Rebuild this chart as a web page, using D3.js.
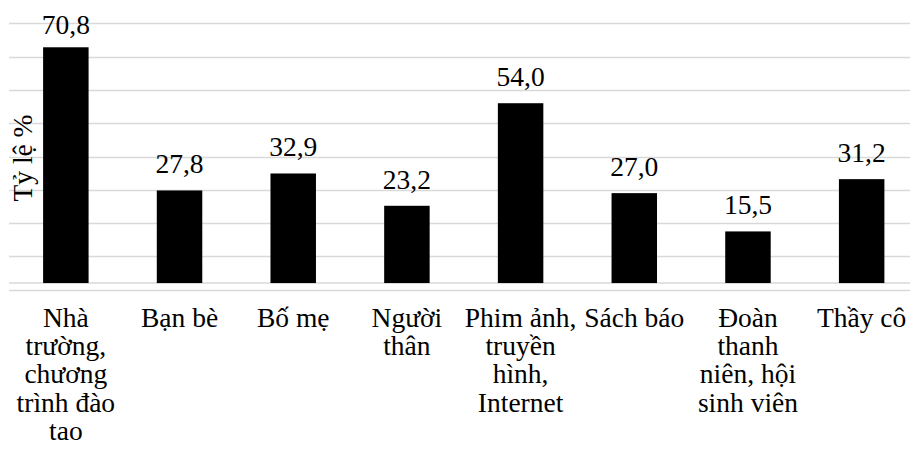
<!DOCTYPE html>
<html>
<head>
<meta charset="utf-8">
<script src="https://cdn.jsdelivr.net/npm/d3@7"></script>
<style>
  html, body { margin: 0; padding: 0; background: #fff; }
  svg { display: block; }
</style>
</head>
<body>
<svg id="chart" width="910" height="455"></svg>
<script>
// ---- data ----
const categories = [
  "Nhà\ntrường,\nchương\ntrình đào\ntao",
  "Bạn bè",
  "Bố mẹ",
  "Người\nthân",
  "Phim ảnh,\ntruyền\nhình,\nInternet",
  "Sách báo",
  "Đoàn\nthanh\nniên, hội\nsinh viên",
  "Thầy cô"
];
const values = [70.8, 27.8, 32.9, 23.2, 54.0, 27.0, 15.5, 31.2];
const valueLabels = ["70,8", "27,8", "32,9", "23,2", "54,0", "27,0", "15,5", "31,2"];
const gridTicks = [-2, 8, 18, 28, 38, 48, 58, 68, 78];
const yTitle = "Tỷ lệ %";

// ---- layout ----
const svg = d3.select("#chart");
const fontSize = 27.5;
const fontFamily = "Liberation Serif";

const x = d3.scaleBand()
  .domain(categories)
  .range([9, 918.5])
  .paddingInner(0.6)
  .paddingOuter(0.3);

const y = d3.scaleLinear()
  .domain([-2, 78])
  .range([289.7, 23.3]);

// gridlines
svg.append("g")
  .selectAll("line")
  .data(gridTicks)
  .join("line")
  .attr("x1", 9)
  .attr("x2", 918.5)
  .attr("y1", d => Math.round(y(d)) + 0.5)
  .attr("y2", d => Math.round(y(d)) + 0.5)
  .attr("stroke", "#d9d9d9")
  .attr("stroke-width", 1.5);

// zero axis line
svg.append("line")
  .attr("x1", 9).attr("x2", 918.5)
  .attr("y1", y(0)).attr("y2", y(0))
  .attr("stroke", "#d9d9d9")
  .attr("stroke-width", 1.5);

// bars
svg.append("g")
  .selectAll("rect")
  .data(values)
  .join("rect")
  .attr("x", (d, i) => x(categories[i]))
  .attr("width", x.bandwidth())
  .attr("y", d => y(d))
  .attr("height", d => y(0) - y(d))
  .attr("fill", "#000");

// value labels
svg.append("g")
  .selectAll("text")
  .data(values)
  .join("text")
  .attr("x", (d, i) => x(categories[i]) + x.bandwidth() / 2)
  .attr("y", d => Math.max(y(d) - 17, 34.3))
  .attr("text-anchor", "middle")
  .attr("font-family", fontFamily)
  .attr("font-size", fontSize)
  .attr("fill", "#000")
  .text((d, i) => valueLabels[i]);

// category labels
const catG = svg.append("g");
categories.forEach((c, i) => {
  const cx = x(c) + x.bandwidth() / 2;
  const t = catG.append("text")
    .attr("text-anchor", "middle")
    .attr("font-family", fontFamily)
    .attr("font-size", fontSize)
    .attr("fill", "#000");
  c.split("\n").forEach((line, j) => {
    t.append("tspan")
      .attr("x", cx)
      .attr("y", 326.7 + j * 28.3)
      .text(line);
  });
});

// y-axis title
svg.append("text")
  .attr("transform", "translate(32,158) rotate(-90)")
  .attr("text-anchor", "middle")
  .attr("font-family", fontFamily)
  .attr("font-size", fontSize)
  .attr("fill", "#000")
  .text(yTitle);
</script>
</body>
</html>
